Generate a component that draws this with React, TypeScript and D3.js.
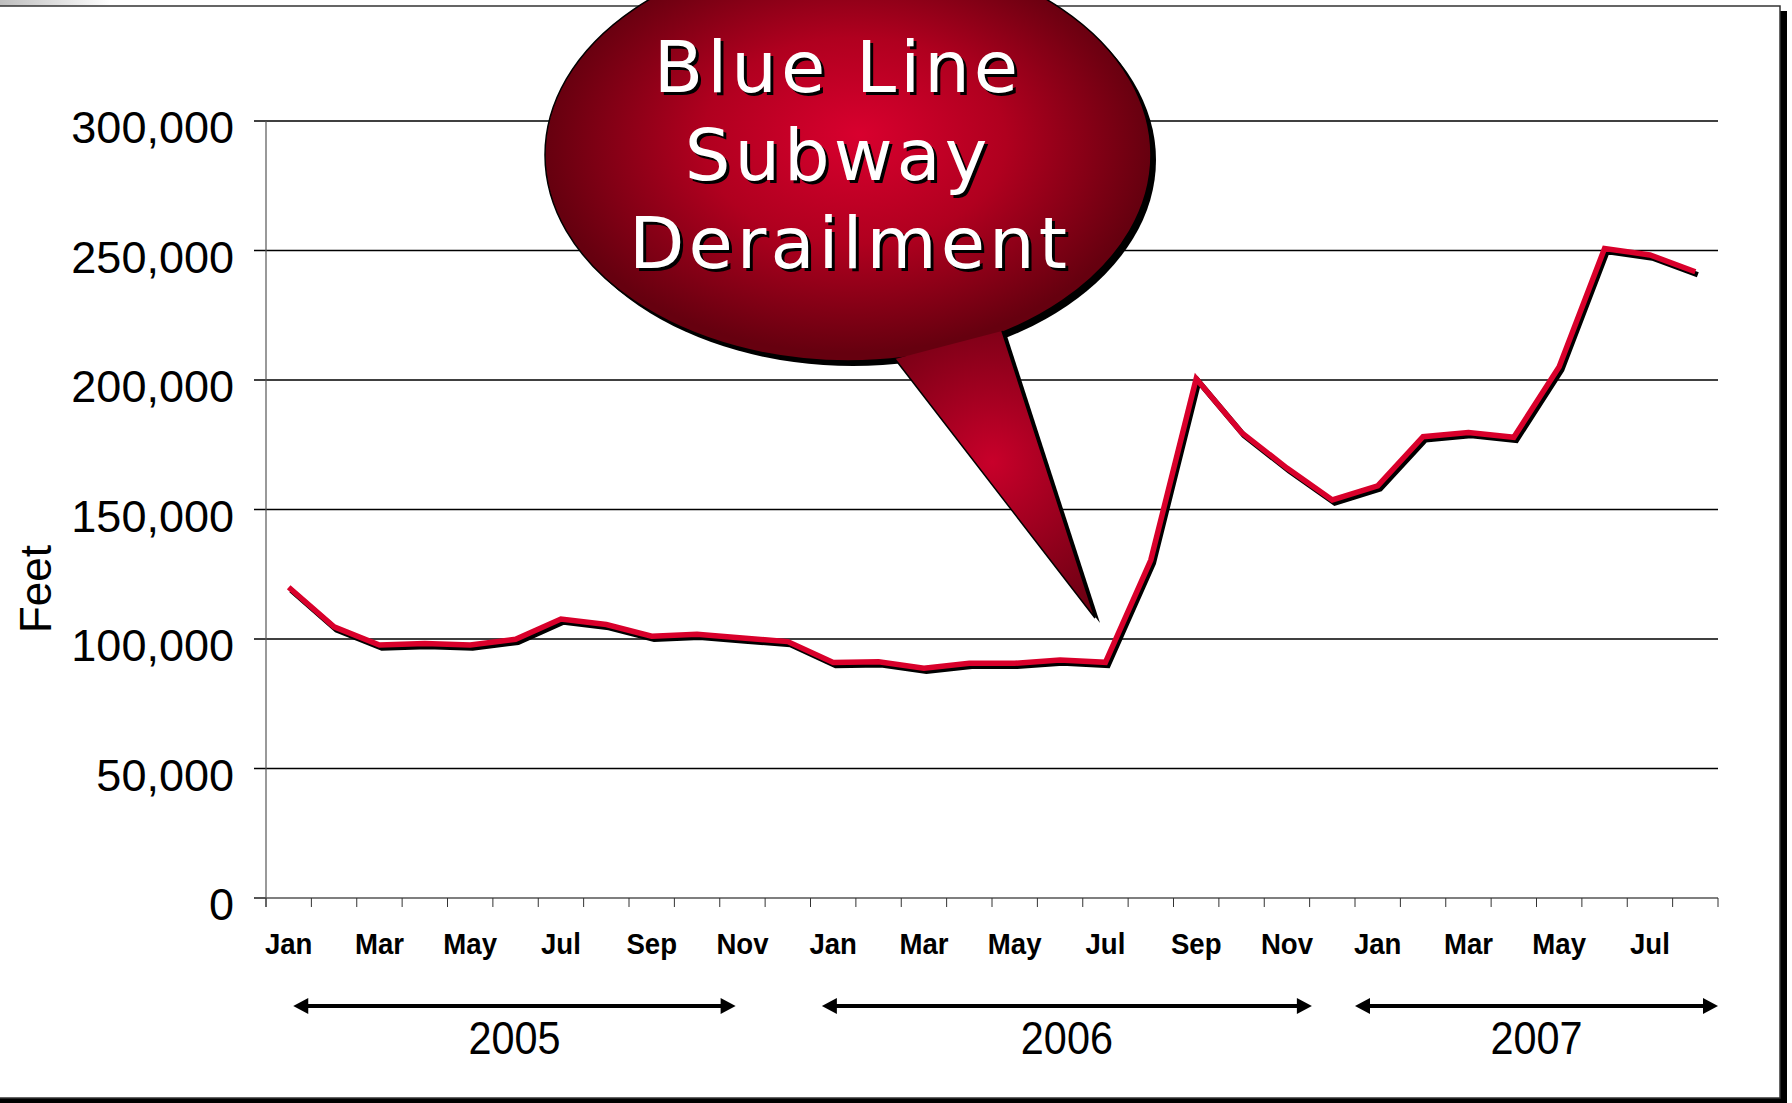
import React from "react";
import * as d3 from "d3";

const monthNames = ["Jan","Feb","Mar","Apr","May","Jun","Jul","Aug","Sep","Oct","Nov","Dec"];
// Jan 2005 .. Aug 2007
const categories = d3.range(32).map((i) => `${monthNames[i % 12]} ${2005 + Math.floor(i / 12)}`);
const feet = [
  120000, 104700, 97700, 98300, 97700, 99900, 107700, 105600, 101100, 101800, 100400, 99000,
  90900, 91200, 88700, 90600, 90600, 91900, 91000, 130500, 200500, 179700, 166000, 153700,
  159100, 178100, 179700, 177900, 205100, 250800, 248300, 241800,
];
const yTicks = [0, 50000, 100000, 150000, 200000, 250000, 300000];
const years = ["2005", "2006", "2007"];
// arrow spans, in category units
const yearFrom = [0.6, 12.25, 24.0];
const yearTo = [10.35, 23.05, 32];
const calloutLines = ["Blue Line", "Subway", "Derailment"];

const W = 1792, H = 1103;

export default function App() {
  const x = d3.scaleBand<number>().domain(d3.range(categories.length)).range([266, 1718]);
  const xu = d3.scaleLinear().domain([0, categories.length]).range([266, 1718]);
  const cx = (i: number) => (x(i) as number) + x.bandwidth() / 2;
  const y = d3.scaleLinear().domain([0, 300000]).range([898, 121]);
  const line = d3.line<number>().x((_, i) => cx(i)).y((d) => y(d));
  const path = line(feet) || "";
  const fmt = d3.format(",");
  const axisFont = "'Liberation Sans', Arial, sans-serif";

  // callout geometry
  const ecx = 848, ecy = 155, erx = 303, ery = 206;
  const tail: [number, number][] = [[895, 359], [1095, 618], [1002, 331]];
  const tailPts = tail.map((p) => p.join(",")).join(" ");

  return (
    <svg width={W} height={H} style={{ position: "absolute", left: 0, top: 0, background: "#fff" }}>
      <defs>
        <radialGradient id="bub" cx="0.5" cy="0.48" r="0.5" fx="0.52" fy="0.45">
          <stop offset="0" stopColor="#d8002e" />
          <stop offset="0.5" stopColor="#b0001f" />
          <stop offset="1" stopColor="#66000f" />
        </radialGradient>
        <radialGradient id="tailg" gradientUnits="userSpaceOnUse" cx="992" cy="462" r="190">
          <stop offset="0" stopColor="#c8002a" />
          <stop offset="0.6" stopColor="#8a001a" />
          <stop offset="1" stopColor="#640010" />
        </radialGradient>
        <linearGradient id="corner" x1="0" x2="1" y1="0" y2="0">
          <stop offset="0" stopColor="#b8b8b8" />
          <stop offset="1" stopColor="#ffffff" />
        </linearGradient>
      </defs>

      {/* slide frame */}
      <rect x={-10} y={0} width={120} height={6} fill="url(#corner)" />
      <rect x={-5} y={11} width={1792} height={1092} fill="#000" />
      <rect x={-10} y={6} width={1790} height={1092} fill="#fff" stroke="#333" strokeWidth={1.5} />

      {/* gridlines */}
      {yTicks.map((t) => (
        <line key={"g" + t} x1={254} x2={t === 0 ? 266 : 1718} y1={y(t)} y2={y(t)} stroke="#000" strokeWidth={1.3} />
      ))}
      {/* y axis */}
      <line x1={266} x2={266} y1={y(300000)} y2={y(0) + 9} stroke="#555" strokeWidth={1.2} />
      {/* x axis */}
      <line x1={254} x2={1718} y1={y(0)} y2={y(0)} stroke="#555" strokeWidth={1.6} />
      {d3.range(categories.length + 1).map((i) => (
        <line key={"t" + i} x1={xu(i)} x2={xu(i)} y1={y(0)} y2={y(0) + 9} stroke="#333" strokeWidth={1} />
      ))}

      {/* y labels */}
      {yTicks.map((t) => (
        <text key={"yl" + t} x={234} y={y(t) + 22} textAnchor="end" fontFamily={axisFont} fontSize={45} fill="#000">
          {fmt(t)}
        </text>
      ))}
      <text transform="translate(51,589) rotate(-90)" textAnchor="middle" fontFamily={axisFont} fontSize={44} fill="#000">
        Feet
      </text>

      {/* x labels */}
      {categories.map((c, i) =>
        i % 2 === 0 ? (
          <text key={"xl" + i} transform={`translate(${cx(i)},954) scale(0.92,1)`} textAnchor="middle"
            fontFamily={axisFont} fontWeight="bold" fontSize={30} fill="#000">
            {c.split(" ")[0]}
          </text>
        ) : null
      )}

      {/* year arrows */}
      {years.map((yr, k) => {
        const a = xu(yearFrom[k]), b = xu(yearTo[k]);
        const yy = 1006, hl = 15, hh = 8;
        return (
          <g key={yr}>
            <line x1={a + hl - 2} x2={b - hl + 2} y1={yy} y2={yy} stroke="#000" strokeWidth={4} />
            <polygon points={`${a},${yy} ${a + hl},${yy - hh} ${a + hl},${yy + hh}`} fill="#000" />
            <polygon points={`${b},${yy} ${b - hl},${yy - hh} ${b - hl},${yy + hh}`} fill="#000" />
            <text transform={`translate(${(a + b) / 2},1054) scale(0.9,1)`} textAnchor="middle"
              fontFamily={axisFont} fontSize={46} fill="#000">
              {yr}
            </text>
          </g>
        );
      })}

      {/* data line */}
      <path d={path} transform="translate(2.5,3)" fill="none" stroke="#000" strokeWidth={5.5} strokeLinejoin="miter" />
      <path d={path} fill="none" stroke="#d9002b" strokeWidth={5.5} strokeLinejoin="miter" />

      {/* callout */}
      <g transform="translate(5,5)">
        <ellipse cx={ecx} cy={ecy} rx={erx} ry={ery} fill="#000" />
        <polygon points={tailPts} fill="#000" />
      </g>
      <ellipse cx={ecx} cy={ecy} rx={erx} ry={ery} fill="url(#bub)" stroke="#000" strokeWidth={1.5} />
      <polygon points={tailPts} fill="url(#tailg)" />
      <polyline points={tailPts} fill="none" stroke="#000" strokeWidth={1.5} />
      {calloutLines.map((s, k) => (
        <g key={s}>
          <text x={k === 2 ? 850 : 838} y={92 + k * 88} dx={3} dy={3} textAnchor="middle"
            fontFamily="'DejaVu Sans', Verdana, sans-serif" fontSize={72} letterSpacing={4} fill="#000">
            {s}
          </text>
          <text x={k === 2 ? 850 : 838} y={92 + k * 88} textAnchor="middle"
            fontFamily="'DejaVu Sans', Verdana, sans-serif" fontSize={72} letterSpacing={4} fill="#fff">
            {s}
          </text>
        </g>
      ))}
    </svg>
  );
}
